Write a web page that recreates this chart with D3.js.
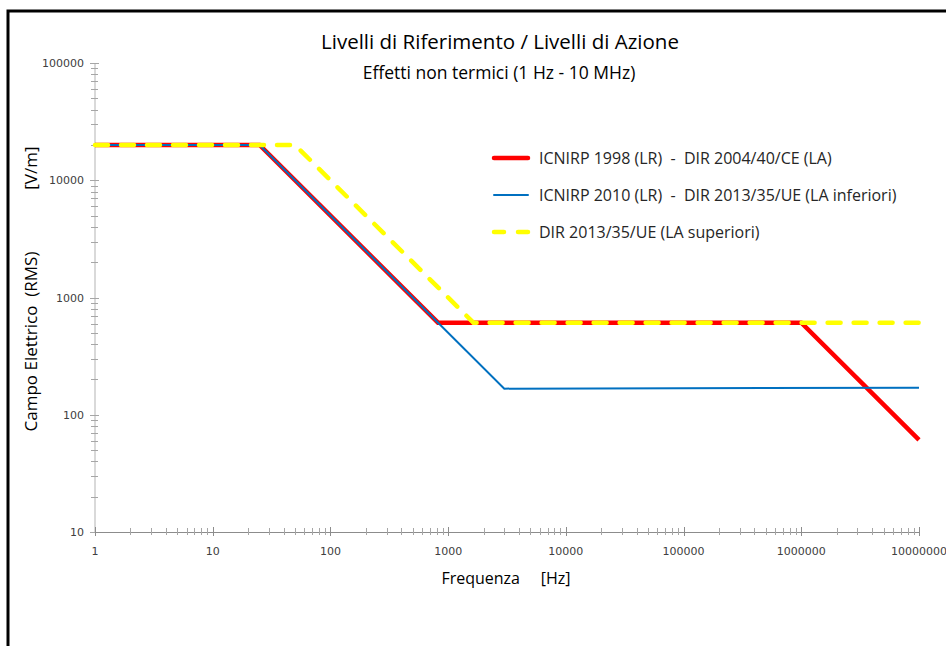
<!DOCTYPE html>
<html>
<head>
<meta charset="utf-8">
<script src="https://cdn.jsdelivr.net/npm/d3@7"></script>
<style>
  body { margin: 0; background: #fff; }
  svg text { font-family: "Liberation Sans Narrow", "Open Sans", sans-serif; white-space: pre; }
</style>
</head>
<body>
<div class="chart"></div>
<script>
// frequency breakpoints (Hz) and field values (V/m)
var redFreq = [1, 25, 820, 1000000, 10000000];
var redVal = [20000, 20000, 610, 610, 61];
var blueFreq = [1, 25, 3000, 10000000];
var blueVal = [20000, 20000, 167, 170];
var yellowFreq = [1, 50, 1640, 10000000];
var yellowVal = [20000, 20000, 610, 610];

var xTickValues = [1, 10, 100, 1000, 10000, 100000, 1000000, 10000000];
var yTickValues = [10, 100, 1000, 10000, 100000];

var legendLabels = [
    "ICNIRP 1998 (LR)  -  DIR 2004/40/CE (LA)",
    "ICNIRP 2010 (LR)  -  DIR 2013/35/UE (LA inferiori)",
    "DIR 2013/35/UE (LA superiori)"
];

var width = 946;
var height = 646;

//////// plot area
var plotLeft = 95, plotRight = 919, plotTop = 63, plotBottom = 532;

var svg = d3.select(".chart")
    .append("svg")
    .attr("width", width)
    .attr("height", height);

// outer frame (only top and left edges show)
svg.append("rect")
    .attr("x", 8)
    .attr("y", 11)
    .attr("width", width + 20)
    .attr("height", height + 20)
    .attr("fill", "none")
    .attr("stroke", "#000")
    .attr("stroke-width", 3);

var x = d3.scaleLog().domain([1, 10000000]).range([plotLeft, plotRight]);
var y = d3.scaleLog().domain([10, 100000]).range([plotBottom, plotTop]);

// minor ticks: every integer multiple inside each decade
var xMinor = [];
for (var d = 1; d < 10000000; d *= 10) {
    for (var k = 2; k <= 9; k++) xMinor.push(d * k);
}
var yMinor = [];
for (var d2 = 10; d2 < 100000; d2 *= 10) {
    for (var k2 = 2; k2 <= 9; k2++) yMinor.push(d2 * k2);
}

//////// y axis
var yAxisG = svg.append("g");
yAxisG.append("line")
    .attr("x1", plotLeft).attr("x2", plotLeft)
    .attr("y1", plotTop).attr("y2", plotBottom)
    .attr("stroke", "#d9d9d9")
    .attr("stroke-width", 2);
yAxisG.selectAll(".ymaj")
    .data(yTickValues)
    .enter().append("line")
    .attr("x1", plotLeft - 5).attr("x2", plotLeft + 4)
    .attr("y1", function(v) { return Math.round(y(v)) + 0.5; })
    .attr("y2", function(v) { return Math.round(y(v)) + 0.5; })
    .attr("stroke", "#a6a6a6");
yAxisG.selectAll(".ymin")
    .data(yMinor)
    .enter().append("line")
    .attr("x1", plotLeft - 4).attr("x2", plotLeft + 3)
    .attr("y1", function(v) { return Math.round(y(v)) + 0.5; })
    .attr("y2", function(v) { return Math.round(y(v)) + 0.5; })
    .attr("stroke", "#a6a6a6");
yAxisG.selectAll(".ylab")
    .data(yTickValues)
    .enter().append("text")
    .attr("x", plotLeft - 11)
    .attr("y", function(v) { return y(v) + 4; })
    .attr("text-anchor", "end")
    .style("font-family", "'DejaVu Sans', sans-serif")
    .style("font-size", "11px")
    .attr("fill", "#404040")
    .text(function(v) { return v; });

//////// x axis
var xAxisG = svg.append("g");
xAxisG.append("line")
    .attr("x1", plotLeft).attr("x2", plotRight)
    .attr("y1", plotBottom + 0.5).attr("y2", plotBottom + 0.5)
    .attr("stroke", "#8c8c8c");
xAxisG.selectAll(".xmaj")
    .data(xTickValues)
    .enter().append("line")
    .attr("x1", function(v) { return Math.round(x(v)) + 0.5; })
    .attr("x2", function(v) { return Math.round(x(v)) + 0.5; })
    .attr("y1", plotBottom - 5).attr("y2", plotBottom + 4)
    .attr("stroke", "#8c8c8c");
xAxisG.selectAll(".xmin")
    .data(xMinor)
    .enter().append("line")
    .attr("x1", function(v) { return Math.round(x(v)) + 0.5; })
    .attr("x2", function(v) { return Math.round(x(v)) + 0.5; })
    .attr("y1", plotBottom - 4).attr("y2", plotBottom + 3)
    .attr("stroke", "#a6a6a6");
xAxisG.selectAll(".xlab")
    .data(xTickValues)
    .enter().append("text")
    .attr("x", function(v) { return x(v); })
    .attr("y", plotBottom + 23)
    .attr("text-anchor", "middle")
    .style("font-family", "'DejaVu Sans', sans-serif")
    .style("font-size", "11px")
    .attr("fill", "#404040")
    .text(function(v) { return v; });

//////// series
var lineGen = d3.line()
    .x(function(p) { return x(p[0]); })
    .y(function(p) { return y(p[1]); });

function pairs(fs, vs) {
    return fs.map(function(f, i) { return [f, vs[i]]; });
}

svg.append("path")
    .attr("d", lineGen(pairs(redFreq, redVal)))
    .attr("fill", "none")
    .attr("stroke", "#ff0000")
    .attr("stroke-width", 4.5);

svg.append("path")
    .attr("d", lineGen(pairs(blueFreq, blueVal)))
    .attr("fill", "none")
    .attr("stroke", "#0070c0")
    .attr("stroke-width", 2);

svg.append("path")
    .attr("d", lineGen(pairs(yellowFreq, yellowVal)))
    .attr("fill", "none")
    .attr("stroke", "#ffff00")
    .attr("stroke-width", 4.5)
    .attr("stroke-dasharray", "13,13")
    .attr("stroke-linecap", "round");

//////// legend
var legendX = 494, legendY = 158, legendStep = 37;
var legendStyles = [
    {color: "#ff0000", w: 4.5, dash: null},
    {color: "#0070c0", w: 2, dash: null},
    {color: "#ffff00", w: 4.5, dash: "10,14"}
];
legendStyles.forEach(function(s, i) {
    var ly = legendY + i * legendStep;
    svg.append("line")
        .attr("x1", legendX).attr("x2", legendX + 34)
        .attr("y1", ly).attr("y2", ly)
        .attr("stroke", s.color)
        .attr("stroke-width", s.w)
        .attr("stroke-linecap", "round")
        .attr("stroke-dasharray", s.dash);
    svg.append("text")
        .attr("x", legendX + 45)
        .attr("y", ly + 6)
        .attr("font-size", "16px")
        .attr("fill", "#262626")
        .text(legendLabels[i]);
});

//////// titles
svg.append("text")
    .attr("x", 500).attr("y", 49)
    .attr("text-anchor", "middle")
    .attr("font-size", "20.5px")
    .attr("fill", "#000")
    .text("Livelli di Riferimento / Livelli di Azione");

svg.append("text")
    .attr("x", 499).attr("y", 79)
    .attr("text-anchor", "middle")
    .attr("font-size", "17.5px")
    .attr("fill", "#000")
    .text("Effetti non termici (1 Hz - 10 MHz)");

svg.append("text")
    .attr("x", 506).attr("y", 584)
    .attr("text-anchor", "middle")
    .attr("font-size", "16px")
    .attr("fill", "#000")
    .text("Frequenza     [Hz]");

svg.append("text")
    .attr("transform", "translate(37,289) rotate(-90)")
    .attr("text-anchor", "middle")
    .attr("font-size", "17px")
    .attr("fill", "#000")
    .text("Campo Elettrico  (RMS)              [V/m]");
</script>
</body>
</html>
